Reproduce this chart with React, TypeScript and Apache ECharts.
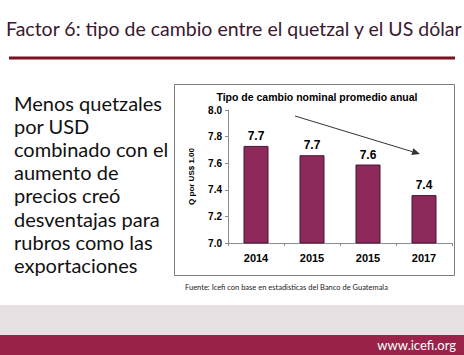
import React, { useEffect, useRef } from "react";
import * as echarts from "echarts";

const categories = ["2014", "2015", "2015", "2017"];
const values = [7.73, 7.66, 7.59, 7.36];
const chartTitle = "Tipo de cambio nominal promedio anual";
const yAxisName = "Q por US$ 1.00";
const slideTitle = "Factor 6: tipo de cambio entre el quetzal y el US dólar";
const bodyLines = [
  "Menos quetzales",
  "por USD",
  "combinado con el",
  "aumento de",
  "precios creó",
  "desventajas para",
  "rubros como las",
  "exportaciones",
];
const sourceText = "Fuente: Icefi con base en estadisticas del Banco de Guatemala";
const siteText = "www.icefi.org";

export default function App() {
  const ref = useRef<HTMLDivElement>(null);
  useEffect(() => {
    if (!ref.current) return;
    const chart = echarts.init(ref.current, null, { renderer: "svg" });
    const font = "Lato, 'Open Sans', sans-serif";
    const tip = [420, 154];
    const start = [295, 116];
    const dx = tip[0] - start[0];
    const dy = tip[1] - start[1];
    const len = Math.sqrt(dx * dx + dy * dy);
    const ux = dx / len, uy = dy / len;
    const hl = 8, hw = 3.5;
    const bx = tip[0] - hl * ux, by = tip[1] - hl * uy;
    const head = [
      [tip[0], tip[1]],
      [bx - hw * uy, by + hw * ux],
      [bx + hw * uy, by - hw * ux],
    ];
    const graphics: any[] = [
      { type: "rect", z: -10, shape: { x: 0, y: 0, width: 464, height: 355 }, style: { fill: "#ffffff" } },
      {
        type: "text", x: 6, y: 28,
        style: { text: slideTitle, font: `19.5px ${font}`, fill: "#3a1830", textVerticalAlign: "middle" },
      },
      { type: "rect", shape: { x: 9, y: 56.5, width: 446, height: 3 }, style: { fill: "#7a1223" } },
      { type: "rect", z: -5, shape: { x: 174.5, y: 84.5, width: 280, height: 191 }, style: { fill: "none", stroke: "#7f7f7f", lineWidth: 1 } },
      {
        type: "text", x: 317, y: 97,
        style: { text: chartTitle, font: `bold 10.5px Arial, 'Liberation Sans', sans-serif`, fill: "#000", textAlign: "center", textVerticalAlign: "middle" },
      },
      { type: "line", shape: { x1: start[0], y1: start[1], x2: bx, y2: by }, style: { stroke: "#333", lineWidth: 1 } },
      { type: "polygon", shape: { points: head }, style: { fill: "#333" } },
      {
        type: "text", x: 185, y: 287,
        style: { text: sourceText, font: `7.5px ${font}`, fill: "#222", textVerticalAlign: "middle" },
      },
      { type: "rect", shape: { x: 0, y: 305, width: 464, height: 30 }, style: { fill: "#e7e1e3" } },
      { type: "rect", shape: { x: 0, y: 335, width: 464, height: 20 }, style: { fill: "#9b2349" } },
      {
        type: "text", x: 456, y: 345,
        style: { text: siteText, font: `13px ${font}`, fill: "#ffffff", textAlign: "right", textVerticalAlign: "middle" },
      },
    ];
    bodyLines.forEach((t, i) => {
      graphics.push({
        type: "text", x: 14, y: 103 + i * 23.1,
        style: { text: t, font: `20px ${font}`, fill: "#111", textVerticalAlign: "middle" },
      });
    });

    chart.setOption({
      animation: false,
      backgroundColor: "#ffffff",
      grid: { left: 228, right: 12, top: 110, bottom: 112 },
      xAxis: {
        type: "category",
        data: categories,
        axisLine: { lineStyle: { color: "#8c8c8c" } },
        axisTick: { show: true, lineStyle: { color: "#8c8c8c" }, length: 3 },
        axisLabel: { color: "#000", fontWeight: "bold", fontSize: 11, fontFamily: "Arial, 'Liberation Sans', sans-serif", margin: 9 },
      },
      yAxis: {
        type: "value",
        min: 7,
        max: 8,
        interval: 0.2,
        name: yAxisName,
        nameLocation: "middle",
        nameRotate: 90,
        nameGap: 33,
        nameTextStyle: { color: "#000", fontSize: 8, fontWeight: "bold", fontFamily: "Arial, 'Liberation Sans', sans-serif" },
        splitLine: { show: false },
        axisLine: { show: true, lineStyle: { color: "#8c8c8c" } },
        axisTick: { show: true, length: 3, lineStyle: { color: "#8c8c8c" } },
        axisLabel: {
          color: "#000", fontWeight: "bold", fontSize: 10, margin: 6,
          fontFamily: "Arial, 'Liberation Sans', sans-serif",
          formatter: (v: number) => v.toFixed(1),
        },
      },
      series: [
        {
          type: "bar",
          data: values,
          barWidth: 25,
          itemStyle: { color: "#8d2a5b", borderColor: "#4a1530", borderWidth: 1 },
          label: {
            show: true, position: "top", distance: 4,
            color: "#000", fontWeight: "bold", fontSize: 12,
            fontFamily: "Arial, 'Liberation Sans', sans-serif",
            formatter: (p: any) => Number(p.value).toFixed(1),
          },
        },
      ],
      graphic: graphics,
    });
    return () => chart.dispose();
  }, []);
  return (
    <div
      ref={ref}
      style={{ position: "fixed", left: 0, top: 0, width: 464, height: 355 }}
    />
  );
}
